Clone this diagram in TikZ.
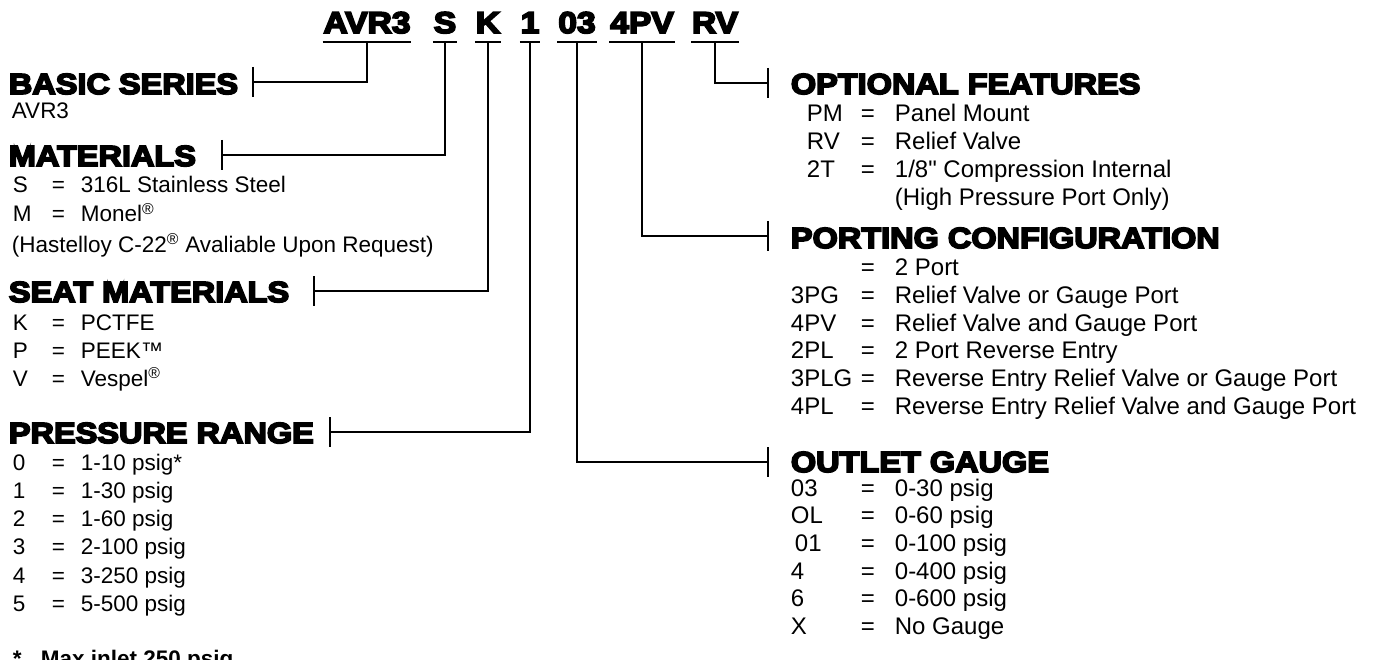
\documentclass[tikz,border=0pt]{standalone}
\usepackage{fontspec}
\setmainfont{Liberation Sans}[Ligatures=TeXOff]
\newfontfamily\headfont[FakeBold=6,FakeStretch=1.12]{Liberation Sans Bold}

\begin{document}
\begin{tikzpicture}[x=1pt, y=-1pt, line width=1.8pt,
  code/.style={anchor=base, inner sep=0pt, font=\headfont\fontsize{30}{35}\selectfont},
  head/.style={anchor=base west, inner sep=0pt, font=\headfont\fontsize{29}{34}\selectfont},
  item/.style={anchor=base west, inner sep=0pt, font=\fontsize{22.5}{27}\selectfont},
  ritem/.style={anchor=base west, inner sep=0pt, font=\fontsize{24}{29}\selectfont},
  note/.style={anchor=base west, inner sep=0pt, font=\bfseries\fontsize{22.5}{27}\selectfont}]

\useasboundingbox (0,0) rectangle (1375,660);

% part number
\node[code] (cAVR)  at (367,33) {AVR3};
\node[code] (cMat)  at (445,33) {S};
\node[code] (cSeat) at (488,33) {K};
\node[code] (cPres) at (530,33) {1};
\node[code] (cOut)  at (577,33) {03};
\node[code] (cPort) at (642,33) {4PV};
\node[code] (cOpt)  at (715,33) {RV};

\foreach \c in {cAVR,cMat,cSeat,cPres,cOut,cPort,cOpt}{
  \coordinate (u\c) at (\c.base |- 0,42);
  \draw (\c.base west |- 0,42) -- (\c.base east |- 0,42);
}

% headings
\node[head] (hBasic) at (8,94)   {BASIC SERIES};
\node[head] (hMat)   at (8,166)  {MATERIALS};
\node[head] (hSeat)  at (8,302)  {SEAT MATERIALS};
\node[head] (hPres)  at (8,443)  {PRESSURE RANGE};
\node[head] (hOpt)   at (790,94)  {OPTIONAL FEATURES};
\node[head] (hPort)  at (790,248) {PORTING CONFIGURATION};
\node[head] (hOut)   at (790,472) {OUTLET GAUGE};

% ticks
\coordinate (tBasic) at (253,82);
\coordinate (tMat)   at (222,155);
\coordinate (tSeat)  at (314,291);
\coordinate (tPres)  at (330,432);
\coordinate (tOpt)   at (768,83);
\coordinate (tPort)  at (768,236);
\coordinate (tOut)   at (768,462);
\foreach \t in {tBasic,tMat,tSeat,tPres,tOpt,tPort,tOut}
  \draw ([yshift=15pt]\t) -- ([yshift=-15pt]\t);

% connectors
\draw (ucAVR)  |- (tBasic);
\draw (ucMat)  |- (tMat);
\draw (ucSeat) |- (tSeat);
\draw (ucPres) |- (tPres);
\draw (ucOut)  |- (tOut);
\draw (ucPort) |- (tPort);
\draw (ucOpt)  |- (tOpt);

% basic series
\node[item] (bs1) at (11,119) {AVR3};

% materials
\foreach \k/\v [count=\i] in {S/316L Stainless Steel, M/Monel\textsuperscript{®}}{
  \node[item] (mk\i) at (12,164+29*\i) {\k};
  \node[item] (me\i) at (51,164+29*\i) {=};
  \node[item] (mv\i) at (80,164+29*\i) {\v};
}
\node[item] (mx) at (11,252) {(Hastelloy C-22\textsuperscript{®} Avaliable Upon Request)};

% seat materials
\foreach \k/\v [count=\i] in {K/PCTFE, P/PEEK™, V/Vespel\textsuperscript{®}}{
  \node[item] (sk\i) at (12,302+28*\i) {\k};
  \node[item] (se\i) at (51,302+28*\i) {=};
  \node[item] (sv\i) at (80,302+28*\i) {\v};
}

% pressure range
\foreach \k/\v [count=\i] in {0/1-10 psig*, 1/1-30 psig, 2/1-60 psig,
    3/2-100 psig, 4/3-250 psig, 5/5-500 psig}{
  \node[item] (pk\i) at (12,442+28.2*\i) {\k};
  \node[item] (pe\i) at (51,442+28.2*\i) {=};
  \node[item] (pv\i) at (80,442+28.2*\i) {\v};
}
\node[note] (pn1) at (12,666) {*};
\node[note] (pn2) at (40,666) {Max inlet 250 psig};

% optional features
\node[ritem] (ok1) at (806,122) {PM};
\node[ritem] (oe1) at (860,122) {=};
\node[ritem] (ov1) at (894,122) {Panel Mount};
\node[ritem] (ok2) at (806,150) {RV};
\node[ritem] (oe2) at (860,150) {=};
\node[ritem] (ov2) at (894,150) {Relief Valve};
\node[ritem] (ok3) at (806,178) {2T};
\node[ritem] (oe3) at (860,178) {=};
\node[ritem] (ov3) at (894,178) {1/8" Compression Internal};
\node[ritem] (ov4) at (894,206) {(High Pressure Port Only)};

% porting configuration
\foreach \k/\v [count=\i] in {{}/2 Port, 3PG/Relief Valve or Gauge Port,
    4PV/Relief Valve and Gauge Port, 2PL/2 Port Reverse Entry,
    3PLG/Reverse Entry Relief Valve or Gauge Port,
    4PL/Reverse Entry Relief Valve and Gauge Port}{
  \node[ritem] (rk\i) at (790,248+27.7*\i) {\k};
  \node[ritem] (re\i) at (860,248+27.7*\i) {=};
  \node[ritem] (rv\i) at (894,248+27.7*\i) {\v};
}

% outlet gauge
\foreach \k/\v [count=\i] in {03/0-30 psig, OL/0-60 psig, {\,01}/0-100 psig,
    4/0-400 psig, 6/0-600 psig, X/No Gauge}{
  \node[ritem] (gk\i) at (790,468.3+27.7*\i) {\k};
  \node[ritem] (ge\i) at (860,468.3+27.7*\i) {=};
  \node[ritem] (gv\i) at (894,468.3+27.7*\i) {\v};
}

\end{tikzpicture}
\end{document}
